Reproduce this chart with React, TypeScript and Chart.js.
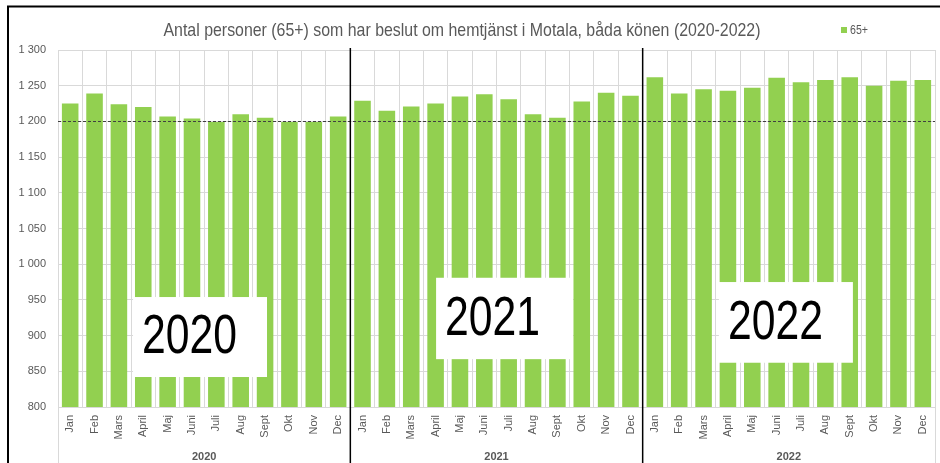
import React, { useEffect, useRef } from "react";
import { Chart, registerables } from "chart.js";

Chart.register(...registerables);

const months = ["Jan", "Feb", "Mars", "April", "Maj", "Juni", "Juli", "Aug", "Sept", "Okt", "Nov", "Dec"];
const years = ["2020", "2021", "2022"];
const values2020 = [1225, 1239, 1224, 1220, 1207, 1204, 1199, 1210, 1205, 1199, 1199, 1207];
const values2021 = [1229, 1215, 1221, 1225, 1235, 1238, 1231, 1210, 1205, 1228, 1240, 1236];
const values2022 = [1262, 1239, 1245, 1243, 1247, 1261, 1255, 1258, 1262, 1250, 1257, 1258];
const seriesName = "65+";
const titleText = "Antal personer (65+) som har beslut om hemtjänst i Motala, båda könen (2020-2022)";
const yMin = 800;
const yMax = 1300;
const yStep = 50;
const referenceLevel = 1200;

const GREEN = "#92d050";
const GRAY_TEXT = "#595959";
const GRID = "#d9d9d9";
const SANS = "'Liberation Sans', Arial, sans-serif";

function fmt(v: number): string {
  if (v >= 1000) {
    return `${Math.floor(v / 1000)} ${String(v % 1000).padStart(3, "0")}`;
  }
  return String(v);
}

// Year callout boxes, in scale units (category index / value)
const yearBoxes = [
  { label: years[0], from: 2.58, to: 8.08, top: 954, bottom: 842 },
  { label: years[1], from: 15.02, to: 20.64, top: 981, bottom: 867 },
  { label: years[2], from: 26.63, to: 32.13, top: 975, bottom: 862 },
];

// draw text squeezed horizontally to a target width (condensed look)
function squeezedText(ctx: any, text: string, x: number, y: number, targetW: number, align: "left" | "center") {
  const w = ctx.measureText(text).width;
  const sx = Math.min(1, targetW / w);
  ctx.save();
  ctx.translate(x, y);
  ctx.scale(sx, 1);
  ctx.textAlign = align;
  ctx.fillText(text, 0, 0);
  ctx.restore();
}

const decorPlugin = {
  id: "decor",
  afterDatasetsDraw(chart: any) {
    const { ctx, chartArea, scales } = chart;
    const xs = scales.x;
    const ys = scales.y;
    const H = chart.height;
    ctx.save();

    // dashed reference line
    const yRef = ys.getPixelForValue(referenceLevel);
    ctx.strokeStyle = "#404040";
    ctx.lineWidth = 1;
    ctx.setLineDash([3, 2]);
    ctx.beginPath();
    ctx.moveTo(chartArea.left, Math.round(yRef) + 0.5);
    ctx.lineTo(chartArea.right, Math.round(yRef) + 0.5);
    ctx.stroke();
    ctx.setLineDash([]);

    // gray lines in axis region at outer edges
    ctx.strokeStyle = GRID;
    ctx.lineWidth = 1;
    [chartArea.left, chartArea.right].forEach((x: number) => {
      ctx.beginPath();
      ctx.moveTo(Math.round(x) + 0.5, chartArea.bottom);
      ctx.lineTo(Math.round(x) + 0.5, H);
      ctx.stroke();
    });

    // year group separators
    ctx.strokeStyle = "#000000";
    ctx.lineWidth = 1.5;
    [12, 24].forEach((i) => {
      const x = xs.getPixelForValue(i - 0.5);
      ctx.beginPath();
      ctx.moveTo(x, chartArea.top - 2);
      ctx.lineTo(x, H);
      ctx.stroke();
    });

    // year labels under axis
    ctx.fillStyle = GRAY_TEXT;
    ctx.font = `bold 11px ${SANS}`;
    ctx.textAlign = "center";
    ctx.textBaseline = "middle";
    years.forEach((y, gi) => {
      const x = (xs.getPixelForValue(gi * 12 - 0.5) + xs.getPixelForValue(gi * 12 + 11.5)) / 2;
      ctx.fillText(y, x, H - 6);
    });

    // year callout boxes
    yearBoxes.forEach((b) => {
      const l = xs.getPixelForValue(b.from);
      const r = xs.getPixelForValue(b.to);
      const t = ys.getPixelForValue(b.top);
      const bt = ys.getPixelForValue(b.bottom);
      ctx.fillStyle = "#ffffff";
      ctx.fillRect(l, t, r - l, bt - t);
      ctx.fillStyle = "#000000";
      ctx.font = `56px ${SANS}`;
      ctx.textBaseline = "middle";
      squeezedText(ctx, b.label, l + 9, (t + bt) / 2 + 1, 95, "left");
    });

    ctx.restore();
  },
  afterDraw(chart: any) {
    const { ctx } = chart;
    ctx.save();
    // title
    ctx.fillStyle = GRAY_TEXT;
    ctx.font = `19px ${SANS}`;
    ctx.textBaseline = "middle";
    squeezedText(ctx, titleText, 462, 31, 597, "center");

    // legend
    ctx.fillStyle = GREEN;
    ctx.fillRect(841, 27, 6, 6);
    ctx.fillStyle = GRAY_TEXT;
    ctx.font = `12px ${SANS}`;
    ctx.textBaseline = "middle";
    squeezedText(ctx, seriesName, 850, 30.5, 18, "left");

    // outer frame
    ctx.strokeStyle = "#000000";
    ctx.lineWidth = 2;
    ctx.beginPath();
    ctx.moveTo(8, chart.height);
    ctx.lineTo(8, 6.5);
    ctx.lineTo(chart.width, 6.5);
    ctx.stroke();
    ctx.restore();
  },
};

export default function App() {
  const ref = useRef<HTMLCanvasElement | null>(null);

  useEffect(() => {
    if (!ref.current) return;
    const labels = [...months, ...months, ...months];
    const data = [...values2020, ...values2021, ...values2022];
    const chart = new Chart(ref.current, {
      type: "bar",
      data: {
        labels,
        datasets: [
          {
            label: seriesName,
            data,
            backgroundColor: GREEN,
            borderWidth: 0,
            barPercentage: 0.68,
            categoryPercentage: 1,
          },
        ],
      },
      options: {
        animation: false,
        responsive: false,
        maintainAspectRatio: false,
        layout: { autoPadding: false, padding: { top: 50, right: 5, left: 0, bottom: 0 } },
        plugins: {
          legend: { display: false },
          title: { display: false },
          tooltip: { enabled: false },
        },
        scales: {
          x: {
            offset: true,
            grid: { color: GRID, drawTicks: false, offset: true },
            border: { display: true, color: GRID },
            ticks: {
              autoSkip: false,
              maxRotation: 90,
              minRotation: 90,
              padding: 8,
              color: GRAY_TEXT,
              font: { family: SANS, size: 11 },
            },
            afterFit: (s: any) => {
              s.height = 56;
              s.paddingLeft = 0;
              s.paddingRight = 0;
            },
          },
          y: {
            min: yMin,
            max: yMax,
            grid: { color: GRID, drawTicks: false },
            border: { display: false },
            ticks: {
              stepSize: yStep,
              padding: 12,
              color: GRAY_TEXT,
              font: { family: SANS, size: 11 },
              callback: (v: any) => fmt(Number(v)),
            },
            afterFit: (s: any) => {
              s.width = 58;
              s.paddingTop = 0;
              s.paddingBottom = 0;
            },
          },
        },
      },
      plugins: [decorPlugin],
    });
    return () => chart.destroy();
  }, []);

  return (
    <div style={{ position: "fixed", left: 0, top: 0, width: 940, height: 463, background: "#fff" }}>
      <canvas ref={ref} width={940} height={463} style={{ display: "block" }} />
    </div>
  );
}
